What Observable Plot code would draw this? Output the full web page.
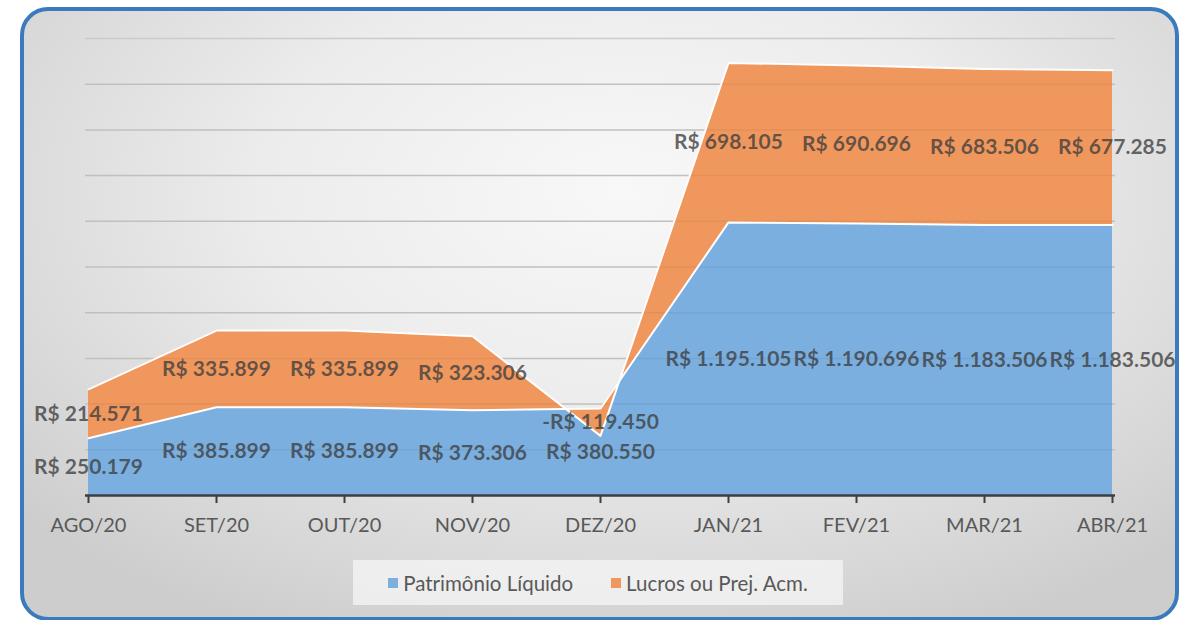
<!DOCTYPE html>
<html>
<head>
<meta charset="utf-8">
<script src="https://cdn.jsdelivr.net/npm/d3@7"></script>
<script src="https://cdn.jsdelivr.net/npm/@observablehq/plot@0.6"></script>
<style>
  html, body { margin: 0; padding: 0; width: 1189px; height: 620px; overflow: hidden; background: #ffffff; }
  #frame {
    position: absolute; left: 20px; top: 7px; width: 1159px; height: 614px;
    box-sizing: border-box; border: 4px solid #3b7bbd; border-radius: 28px;
    background: radial-gradient(ellipse 70% 80% at 52% 30%, #f8f8f8 0%, #ececec 45%, #d6d6d6 85%, #cdcdcd 100%);
  }
  #chart { position: absolute; left: 0; top: 0; }
  #legend {
    position: absolute; left: 353px; top: 560px; width: 490px; height: 45px;
    background: rgba(245,245,245,0.75);
    font-family: Lato, "Noto Sans", sans-serif; font-size: 20.5px; color: #595959;
    display: flex; align-items: center; justify-content: center; gap: 38px;
  }
  .item { display: flex; align-items: center; gap: 5px; }
  .sw { width: 10px; height: 10px; display: inline-block; }
</style>
</head>
<body>
<div id="frame"></div>
<div id="chart"></div>
<div id="legend"></div>
<script>
const months = ["AGO/20","SET/20","OUT/20","NOV/20","DEZ/20","JAN/21","FEV/21","MAR/21","ABR/21"];
const patrimonio = [250179, 385899, 385899, 373306, 380550, 1195105, 1190696, 1183506, 1183506];
const lucros = [214571, 335899, 335899, 323306, -119450, 698105, 690696, 683506, 677285];
const seriesNames = ["Patrimônio Líquido", "Lucros ou Prej. Acm."];
const seriesColors = ["#7aafe0", "#f0975e"];
const gridTicks = [200000, 400000, 600000, 800000, 1000000, 1200000, 1400000, 1600000, 1800000, 2000000];

const loc = d3.formatLocale({decimal: ",", thousands: ".", grouping: [3], currency: ["R$ ", ""], minus: "-"});
const fmt = loc.format("$,");

const rows = months.map((m, i) => ({
  month: m,
  pl: patrimonio[i],
  lc: lucros[i],
  total: patrimonio[i] + lucros[i],
  plMid: patrimonio[i] / 2,
  lcMid: patrimonio[i] + lucros[i] / 2
}));

const labelStyle = {fill: "#3f3f3f", fillOpacity: 0.78, fontWeight: "bold", fontSize: 21, fontFamily: "Lato, 'Noto Sans', sans-serif"};

const chart = Plot.plot({
  width: 1189,
  height: 550,
  marginLeft: 85,
  marginRight: 74,
  marginTop: 38,
  marginBottom: 55,
  style: {background: "transparent", fontFamily: "Lato, 'Noto Sans', sans-serif", color: "#595959"},
  x: {type: "point", domain: months, padding: 0, label: null},
  y: {domain: [0, 2000000], axis: null},
  marks: [
    Plot.ruleY(gridTicks, {stroke: "#cbcbcb", strokeWidth: 1.5}),
    Plot.areaY(rows, {x: "month", y1: 0, y2: "pl", fill: seriesColors[0]}),
    Plot.areaY(rows, {x: "month", y1: "pl", y2: "total", fill: seriesColors[1]}),
    Plot.ruleY(gridTicks.slice(0, 9), {stroke: "#000", strokeOpacity: 0.05, strokeWidth: 1.5}),
    Plot.lineY(rows, {x: "month", y: "pl", stroke: "#ffffff", strokeWidth: 2}),
    Plot.lineY(rows, {x: "month", y: "total", stroke: "#ffffff", strokeWidth: 2}),
    Plot.ruleY([0], {stroke: "#3a3f45", strokeWidth: 2.5}),
    Plot.axisX({tickSize: 8, tickPadding: 14, fontSize: 20, stroke: "#3a3f45", strokeWidth: 2, fill: "#595959"}),
    Plot.text(rows, {x: "month", y: "plMid", text: d => fmt(d.pl), ...labelStyle}),
    Plot.text(rows, {x: "month", y: "lcMid", text: d => fmt(d.lc), ...labelStyle})
  ]
});
document.getElementById("chart").appendChild(chart);

const legend = document.getElementById("legend");
seriesNames.forEach((name, i) => {
  const it = document.createElement("div");
  it.className = "item";
  const sw = document.createElement("span");
  sw.className = "sw";
  sw.style.background = seriesColors[i];
  const t = document.createElement("span");
  t.textContent = name;
  it.appendChild(sw);
  it.appendChild(t);
  legend.appendChild(it);
});
</script>
</body>
</html>
